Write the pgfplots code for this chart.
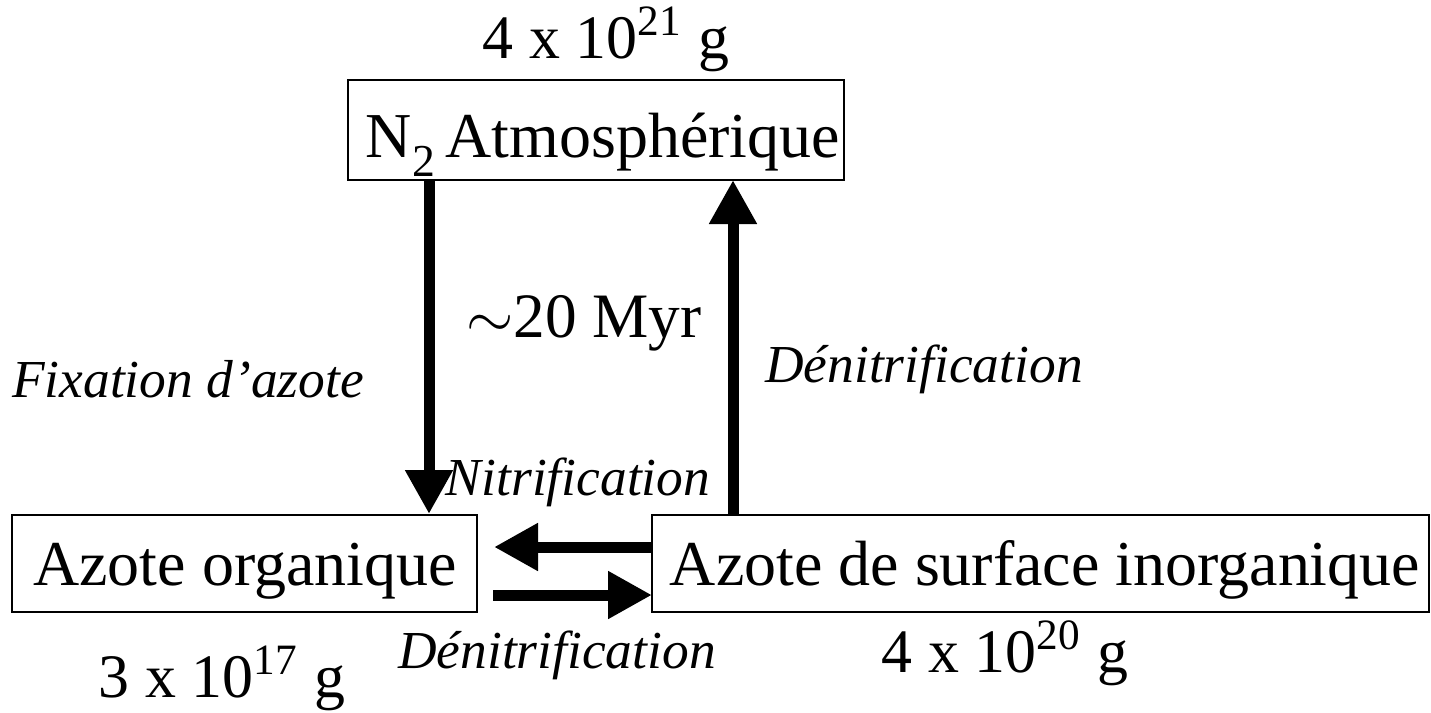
\documentclass[border=0pt]{standalone}
\usepackage{fontspec}
\setmainfont{Liberation Serif}
\usepackage{pgfplots}
\pgfplotsset{compat=1.18}
\usetikzlibrary{arrows.meta}
\begin{document}
\begin{tikzpicture}
\begin{axis}[
    scale only axis,
    width=143.1mm, height=71.2mm,
    xmin=0, xmax=1431, ymin=0, ymax=712,
    y dir=reverse,
    axis lines=none,
    clip=false,
]
% boxes (pixel units of the reference)
\draw[line width=0.2mm] (axis cs:348,80) rectangle (axis cs:844,180);
\draw[line width=0.2mm] (axis cs:12,515) rectangle (axis cs:477,612);
\draw[line width=0.2mm] (axis cs:652,515) rectangle (axis cs:1429,612);
% arrows
\tikzset{flow/.style={line width=1.1mm, -{Triangle[length=4.4mm,width=4.5mm]}}}
\draw[flow] (axis cs:429,180) -- (axis cs:429,514);
\draw[flow] (axis cs:733,514) -- (axis cs:733,180);
\draw[flow] (axis cs:652,547) -- (axis cs:494,547);
\draw[flow] (axis cs:493,595) -- (axis cs:652,595);
% texts
\tikzset{big/.style={anchor=base, inner sep=0pt, font=\fontsize{18.2}{20}\selectfont},
         mid/.style={anchor=base, inner sep=0pt, font=\fontsize{17.6}{20}\selectfont},
         lab/.style={anchor=base, inner sep=0pt, font=\fontsize{15.2}{18}\selectfont\itshape}}
\node[mid] at (axis cs:606,58) {4 x 10\textsuperscript{21} g};
\node[big] at (axis cs:603,157) {N\raisebox{-0.3em}{\fontsize{13}{14}\selectfont 2}\,Atmosphérique};
\node[anchor=base, inner sep=0pt, font=\fontsize{18}{20}\selectfont] at (axis cs:584,337) {$\sim$20 Myr};
\node[lab] at (axis cs:188,397) {Fixation d’azote};
\node[lab] at (axis cs:924,382) {Dénitrification};
\node[lab] at (axis cs:578,495) {Nitrification};
\node[big] at (axis cs:245,585) {Azote organique};
\node[big] at (axis cs:1045,585) {Azote de surface inorganique};
\node[lab] at (axis cs:557,668) {Dénitrification};
\node[mid] at (axis cs:222,697) {3 x 10\textsuperscript{17} g};
\node[mid] at (axis cs:1005,672) {4 x 10\textsuperscript{20} g};
\path (axis cs:0,0) rectangle (axis cs:1431,712);
\end{axis}
\end{tikzpicture}
\end{document}
